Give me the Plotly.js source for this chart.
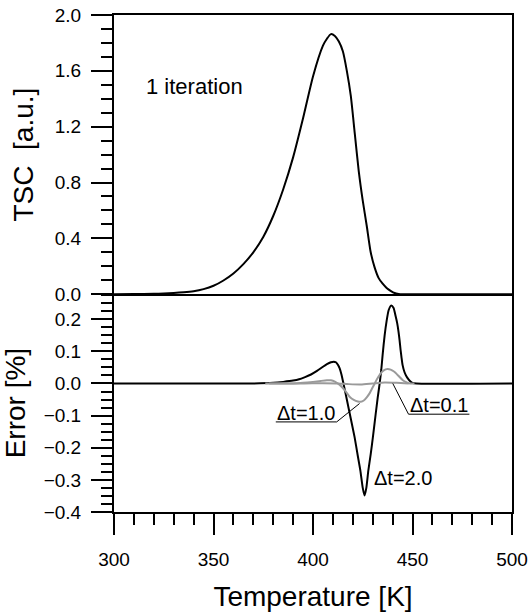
<!DOCTYPE html>
<html>
<head>
<meta charset="utf-8">
<script src="https://cdn.plot.ly/plotly-3.0.1.min.js"></script>
<style>html,body{margin:0;padding:0;background:#fff;}#chart{width:530px;height:612px;}</style>
</head>
<body>
<div id="chart"></div>
<script>
// TSC curve (top panel)
const tscT = [300, 310, 320, 325, 330, 335, 340, 345, 350, 355, 360, 365, 370, 375, 380, 385, 390, 395, 400, 405, 407, 409, 411, 413, 415, 417, 419, 421, 423, 425, 427, 429, 431, 433, 435, 437, 439, 441, 443, 445, 450, 500];
const tscV = [0, 0.001, 0.003, 0.005, 0.008, 0.013, 0.021, 0.036, 0.06, 0.098, 0.148, 0.215, 0.3, 0.41, 0.56, 0.75, 0.98, 1.26, 1.56, 1.78, 1.83, 1.863, 1.85, 1.81, 1.74, 1.6, 1.42, 1.15, 0.88, 0.67, 0.49, 0.30, 0.19, 0.115, 0.075, 0.045, 0.024, 0.008, 0.002, 0, 0, 0];

// Error, dt = 2.0 (black)
const err2T = [300, 370, 380, 385, 390, 393, 396, 399, 402, 405, 407, 409, 410.4, 411.5, 412.5, 413.4, 414.3, 415.3, 417, 419, 420.9, 422.5, 423.8, 425, 425.9, 426.8, 427.8, 429, 430.1, 431.5, 432.5, 433.5, 434.3, 435, 436, 437, 438, 439.3, 440.5, 441.5, 442.3, 443, 443.5, 444, 444.5, 445, 446, 447, 448, 449, 450, 452, 500];
const err2V = [0, 0, 0.002, 0.005, 0.009, 0.013, 0.02, 0.028, 0.039, 0.052, 0.06, 0.066, 0.068, 0.066, 0.058, 0.047, 0.028, 0, -0.05, -0.11, -0.167, -0.225, -0.271, -0.325, -0.349, -0.325, -0.271, -0.22, -0.167, -0.095, -0.045, 0, 0.042, 0.09, 0.15, 0.195, 0.228, 0.243, 0.235, 0.21, 0.188, 0.16, 0.135, 0.105, 0.08, 0.058, 0.035, 0.022, 0.013, 0.006, 0.002, 0, 0];

// Error, dt = 1.0 (grey)
const err1T = [378, 390, 395, 400, 404, 407, 409, 411, 413, 415, 416.5, 418.5, 420.5, 422.5, 424, 425.5, 427, 428.5, 430, 431, 432, 433.5, 435, 436.5, 437.6, 439, 440.5, 442, 443.5, 445, 446.5, 448, 451];
const err1V = [0, 0, 0.002, 0.005, 0.008, 0.01, 0.01, 0.006, -0.002, -0.014, -0.025, -0.042, -0.051, -0.056, -0.057, -0.053, -0.043, -0.03, -0.012, 0.0, 0.012, 0.027, 0.038, 0.044, 0.045, 0.043, 0.038, 0.03, 0.02, 0.011, 0.005, 0.001, 0];

// Error, dt = 0.1 (grey, nearly zero)
const err01T = [376, 395, 405, 412, 418, 424, 430, 436, 442, 448];
const err01V = [0, 0, 0.001, 0, -0.002, -0.003, 0, 0.003, 0.002, 0];

const labels = {
  iter: "1 iteration",
  dt2: "\u0394t=2.0",
  dt1: "\u0394t=1.0",
  dt01: "\u0394t=0.1",
  xTitle: "Temperature [K]",
  yTopTitle: "TSC\u00a0 [a.u.]",
  yBotTitle: "Error [%]"
};

const FONT = "Liberation Sans, Arial, Helvetica, sans-serif";
const split = 0.4383;

const traces = [
  {x: tscT, y: tscV, xaxis: 'x2', yaxis: 'y2', mode: 'lines', line: {color: '#000', width: 2, shape: 'spline', smoothing: 0.6}, hoverinfo: 'skip'},
  {x: err2T, y: err2V, xaxis: 'x', yaxis: 'y', mode: 'lines', line: {color: '#000', width: 2, shape: 'spline', smoothing: 0.5}, hoverinfo: 'skip'},
  {x: err01T, y: err01V, xaxis: 'x', yaxis: 'y', mode: 'lines', line: {color: '#9a9a9a', width: 2, shape: 'spline', smoothing: 0.6}, hoverinfo: 'skip'},
  {x: err1T, y: err1V, xaxis: 'x', yaxis: 'y', mode: 'lines', line: {color: '#9a9a9a', width: 2, shape: 'spline', smoothing: 0.6}, hoverinfo: 'skip'}
];

const tickCommon = {
  ticks: 'outside', ticklen: 21, tickwidth: 2, tickcolor: '#000',
  showline: true, linewidth: 2, linecolor: '#000', mirror: true,
  showgrid: false, zeroline: false,
  tickfont: {family: FONT, size: 19, color: '#000'}
};

const layout = {
  width: 530, height: 612,
  margin: {l: 114, r: 17.5, t: 15, b: 100.3},
  paper_bgcolor: '#fff', plot_bgcolor: '#fff',
  showlegend: false,
  font: {family: FONT, color: '#000'},
  xaxis: Object.assign({}, tickCommon, {
    domain: [0, 1], anchor: 'y', range: [300, 500], tick0: 300, dtick: 50,
    mirror: false,
    ticklabelstandoff: 8,
    minor: {dtick: 10, ticks: 'outside', ticklen: 11, tickwidth: 2, tickcolor: '#000', showgrid: false},
    title: {text: labels.xTitle, font: {family: FONT, size: 28, color: '#000'}, standoff: 20}
  }),
  xaxis2: {
    domain: [0, 1], anchor: 'y2', range: [300, 500], matches: 'x',
    showticklabels: false, ticks: '', showline: true, linewidth: 2, linecolor: '#000', mirror: true,
    showgrid: false, zeroline: false
  },
  yaxis: Object.assign({}, tickCommon, {
    domain: [0, split], anchor: 'x', range: [-0.4, 0.278], tick0: 0, dtick: 0.1, tickformat: '.1f',
    ticklabelstandoff: 6,
    minor: {dtick: 0.025, ticks: 'outside', ticklen: 11, tickwidth: 2, tickcolor: '#000', showgrid: false},
    title: {text: labels.yBotTitle, font: {family: FONT, size: 28, color: '#000'}, standoff: 13}
  }),
  yaxis2: Object.assign({}, tickCommon, {
    domain: [split, 1], anchor: 'x2', range: [0, 2.0], tick0: 0, dtick: 0.4, tickformat: '.1f',
    ticklabelstandoff: 6,
    minor: {dtick: 0.1, ticks: 'outside', ticklen: 11, tickwidth: 2, tickcolor: '#000', showgrid: false},
    title: {text: labels.yTopTitle, font: {family: FONT, size: 28, color: '#000'}, standoff: 13}
  }),
  annotations: [
    {text: labels.iter, xref: 'x2', yref: 'y2', x: 315.2, y: 1.486, xanchor: 'left', yanchor: 'middle', showarrow: false, font: {family: FONT, size: 22, color: '#000'}},
    {text: labels.dt2, xref: 'x', yref: 'y', x: 445.0, y: -0.295, xanchor: 'center', yanchor: 'middle', showarrow: false, font: {family: FONT, size: 20, color: '#000'}},
    {text: labels.dt1, xref: 'x', yref: 'y', x: 396.3, y: -0.0916, xanchor: 'center', yanchor: 'middle', showarrow: false, font: {family: FONT, size: 20, color: '#000'}},
    {text: labels.dt01, xref: 'x', yref: 'y', x: 463.3, y: -0.0676, xanchor: 'center', yanchor: 'middle', showarrow: false, font: {family: FONT, size: 20, color: '#000'}}
  ],
  shapes: [
    {type: 'line', xref: 'x', yref: 'y', x0: 381.3, y0: -0.1196, x1: 411.9, y1: -0.1196, line: {color: '#000', width: 1}},
    {type: 'line', xref: 'x', yref: 'y', x0: 411.9, y0: -0.1196, x1: 423.4, y1: -0.0623, line: {color: '#000', width: 1}},
    {type: 'line', xref: 'x', yref: 'y', x0: 448.0, y0: -0.0956, x1: 478.6, y1: -0.0956, line: {color: '#000', width: 1}},
    {type: 'line', xref: 'x', yref: 'y', x0: 448.0, y0: -0.0956, x1: 440.1, y1: 0, line: {color: '#000', width: 1}}
  ]
};

Plotly.newPlot('chart', traces, layout, {staticPlot: true, displayModeBar: false});
</script>
</body>
</html>
